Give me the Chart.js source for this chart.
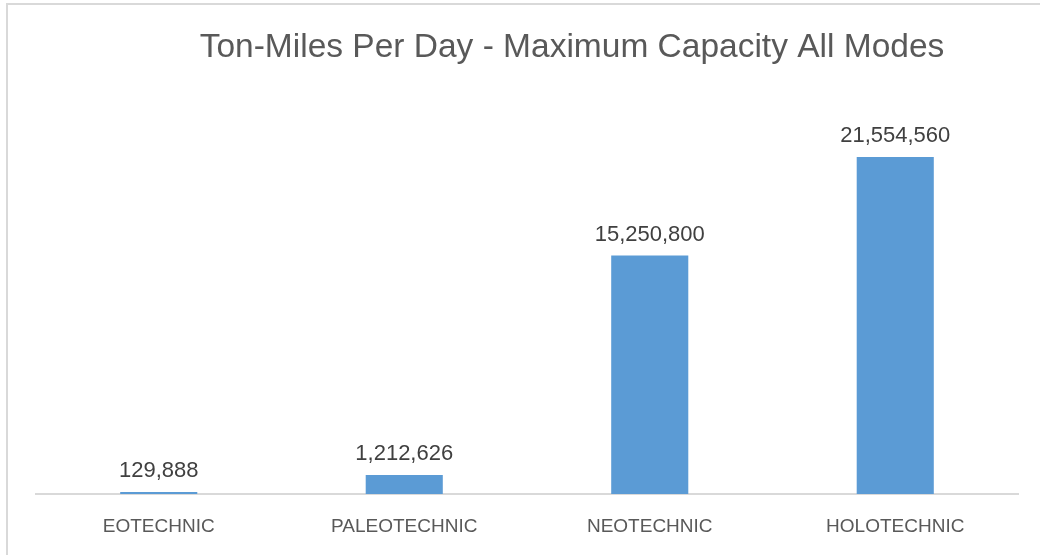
<!DOCTYPE html>
<html>
<head>
<meta charset="utf-8">
<script src="https://cdn.jsdelivr.net/npm/chart.js@4"></script>
<style>
  html, body { margin: 0; padding: 0; background: #fff; }
  #wrap { position: relative; width: 1040px; height: 555px; }
  #frame { position: absolute; left: 6px; top: 3px; right: 0; bottom: 0;
           border-left: 2px solid #d9d9d9; border-top: 2px solid #d9d9d9; }
  canvas { position: absolute; left: 0; top: 0; }
</style>
</head>
<body>
<div id="wrap">
  <div id="frame"></div>
  <canvas id="tonChart" width="1040" height="555"></canvas>
</div>
<script>
const chartTitle = "Ton-Miles Per Day - Maximum Capacity All Modes";
const eras = ["EOTECHNIC", "PALEOTECHNIC", "NEOTECHNIC", "HOLOTECHNIC"];
const tonMiles = [129888, 1212626, 15250800, 21554560];
const axisMax = 25000000;

const fontFamily = "'Liberation Sans', 'Open Sans', sans-serif";

// numbers above each bar
const valueLabels = {
    id: 'valueLabels',
    afterDatasetsDraw(chart) {
        const ctx = chart.ctx;
        const meta = chart.getDatasetMeta(0);
        ctx.save();
        ctx.font = "22px " + fontFamily;
        ctx.fillStyle = "#404040";
        ctx.textAlign = "center";
        ctx.textBaseline = "middle";
        meta.data.forEach((bar, i) => {
            ctx.fillText(tonMiles[i].toLocaleString('en-US'), bar.x, bar.y - 21);
        });
        ctx.restore();
    }
};

// title sits a bit right of centre in the original
const offsetTitle = {
    id: 'offsetTitle',
    afterDraw(chart) {
        const ctx = chart.ctx;
        ctx.save();
        ctx.font = "33.5px " + fontFamily;
        ctx.fillStyle = "#595959";
        ctx.textAlign = "center";
        ctx.textBaseline = "middle";
        ctx.fillText(chartTitle, chart.width * 0.55, 48);
        ctx.restore();
    }
};

const tonChart = new Chart(document.getElementById('tonChart'), {
    type: 'bar',
    data: {
        labels: eras,
        datasets: [{
            label: "Ton-Miles",
            data: tonMiles,
            backgroundColor: "#5b9bd5",
            categoryPercentage: 1,
            barPercentage: 0.314
        }]
    },
    options: {
        responsive: false,
        animation: false,
        layout: { padding: { top: 103, left: 36, right: 22, bottom: -4 } },
        plugins: {
            legend: { display: false },
            title: { display: false },
            tooltip: { enabled: false }
        },
        scales: {
            x: {
                grid: { display: false, drawTicks: false },
                border: { display: true, color: "#d9d9d9", width: 2 },
                ticks: { color: "#595959", font: { family: fontFamily, size: 19, lineHeight: 1 }, padding: 23 }
            },
            y: { display: false, min: 0, max: axisMax }
        }
    },
    plugins: [valueLabels, offsetTitle]
});
</script>
</body>
</html>
